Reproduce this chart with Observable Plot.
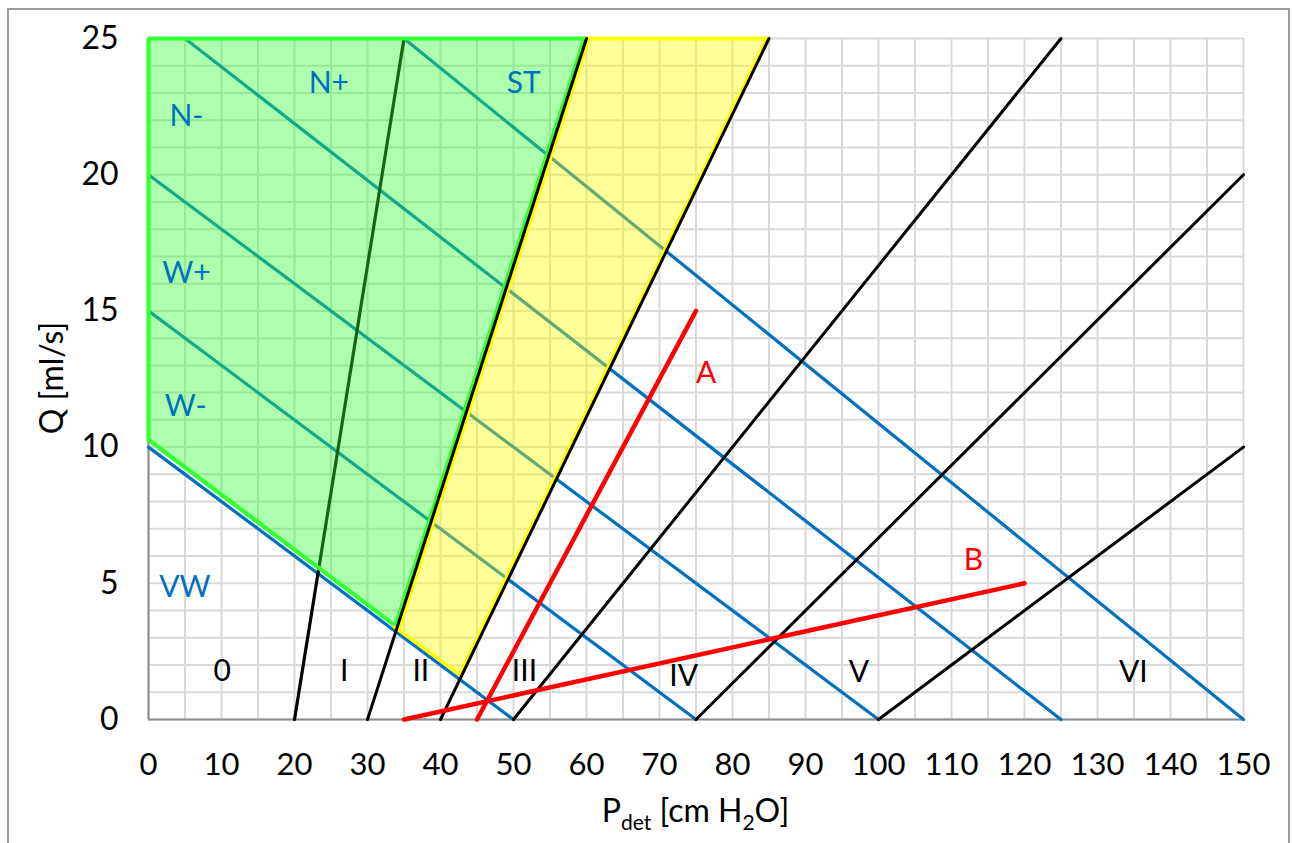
<!DOCTYPE html>
<html>
<head>
<meta charset="utf-8">
<script src="https://cdn.jsdelivr.net/npm/d3@7"></script>
<script src="https://cdn.jsdelivr.net/npm/@observablehq/plot@0.6"></script>
<style>
  html, body { margin: 0; padding: 0; background: #fff; overflow: hidden; }
  #frame { position: absolute; left: 7px; top: 8px; width: 1283px; height: 860px;
           border: 2px solid #9b9b9b; box-sizing: border-box; pointer-events: none; }
  #chart { position: absolute; left: 0; top: 0; }
</style>
</head>
<body>
<div id="chart"></div>
<div id="frame"></div>
<script>
// Axis ticks and grid
const xTicks = d3.range(0, 151, 10);
const yTicks = [0, 5, 10, 15, 20, 25];
const xGrid = d3.range(0, 151, 5);
const yGrid = d3.range(0, 26, 1);

// Obstruction grade boundaries: [name, p0, q0, p1, q1]
const gradeLines = [
  ["0/I",    20, 0,  35, 25],
  ["I/II",   30, 0,  60, 25],
  ["II/III", 40, 0,  85, 25],
  ["III/IV", 50, 0, 125, 25],
  ["IV/V",   75, 0, 150, 20],
  ["V/VI",  100, 0, 150, 10]
];

// Contractility boundaries: [name, p0, q0, p1, q1]
const contractLines = [
  ["VW/W-",  0, 10,  50, 0],
  ["W-/W+",  0, 15,  75, 0],
  ["W+/N-",  0, 20, 100, 0],
  ["N-/N+",  5, 25, 125, 0],
  ["N+/ST", 35, 25, 150, 0]
];

// Pressure-flow curves of two voids
const curves = [
  ["A", 45, 0,  75, 15],
  ["B", 35, 0, 120,  5]
];

// Shaded zones (polygon vertices, [p, q])
const greenZone  = [[0, 10.27], [0, 25], [60, 25], [34.07, 3.39]];
const yellowZone = [[34.07, 3.39], [60, 25], [85, 25], [42.9, 1.65]];

// Region labels: [text, p, q]
const contractLabels = [
  ["N+", 24.7, 23.37], ["N-", 5.2, 22.14], ["ST", 51.4, 23.34],
  ["W+", 5.2, 16.39], ["W-", 5.1, 11.49], ["VW", 5.0, 4.85]
];
const gradeLabels = [
  ["0", 10.1, 1.75], ["I", 26.8, 1.75], ["II", 37.3, 1.75], ["III", 51.5, 1.75],
  ["IV", 73.3, 1.6], ["V", 97.3, 1.74], ["VI", 134.9, 1.74]
];
const curveLabels = [["A", 76.4, 12.7], ["B", 113, 5.84]];

// helpers turning [name, x0, y0, x1, y1] rows into point lists
const segPoints = rows => rows.flatMap(([name, x0, y0, x1, y1]) =>
  [{name, x: x0, y: y0}, {name, x: x1, y: y1}]);
const polyPoints = pts => pts.map(([x, y]) => ({x, y}));
const labelRows = rows => rows.map(([text, x, y]) => ({text, x, y}));

const BLUE = "#0070c0", GREEN = "#33ff33", YELLOW = "#ffff00", RED = "#ff0000";

// the 0/I boundary runs through the green zone, so it sits beneath the fill
const underFill = gradeLines.filter(d => d[0] === "0/I");
const overFill = gradeLines.filter(d => d[0] !== "0/I");

// Zone outlines; the edge shared by both zones is drawn twice, side by side
const gz = polyPoints(greenZone);
const greenOutline = [gz[3], gz[0], gz[1], gz[2]];
const sharedEdge = [gz[2], gz[3]];
const yz = polyPoints(yellowZone);
const yellowTop = [yz[1], yz[2]];
const yellowRight = [yz[2], yz[3], yz[0]];

const chart = Plot.plot({
  width: 1292,
  height: 843,
  marginLeft: 148,
  marginRight: 49,
  marginTop: 38,
  marginBottom: 124,
  x: {domain: [0, 150]},
  y: {domain: [0, 25]},
  style: {fontFamily: "Lato, sans-serif", fontSize: "31px", color: "#000", background: "#fff", overflow: "visible"},
  marks: [
    Plot.ruleX(xGrid, {stroke: "#d9d9d9", strokeWidth: 2}),
    Plot.ruleY(yGrid, {stroke: "#d9d9d9", strokeWidth: 2}),
    Plot.ruleX([0], {stroke: "#8c8c8c", strokeWidth: 2}),
    Plot.ruleY([0], {stroke: "#8c8c8c", strokeWidth: 2}),
    Plot.line(segPoints(contractLines), {x: "x", y: "y", z: "name", stroke: BLUE, strokeWidth: 3.2}),
    Plot.line(segPoints(underFill), {x: "x", y: "y", z: "name", stroke: "#000", strokeWidth: 3.2}),
    // translucent zones
    Plot.line(gz, {x: "x", y: "y", fill: GREEN, fillOpacity: 0.4, stroke: "none", curve: "linear-closed"}),
    Plot.line(yz, {x: "x", y: "y", fill: YELLOW, fillOpacity: 0.4, stroke: "none", curve: "linear-closed"}),
    // zone outlines
    Plot.line(greenOutline, {x: "x", y: "y", stroke: GREEN, strokeWidth: 4.2, strokeLinejoin: "miter"}),
    Plot.line(sharedEdge, {x: "x", y: "y", stroke: GREEN, strokeWidth: 3.8, dx: -2.4}),
    Plot.line(sharedEdge, {x: "x", y: "y", stroke: YELLOW, strokeWidth: 3.8, dx: 2.4}),
    Plot.line(yellowTop, {x: "x", y: "y", stroke: YELLOW, strokeWidth: 4.2}),
    Plot.line(yellowRight, {x: "x", y: "y", stroke: YELLOW, strokeWidth: 3.8, dx: -2, strokeLinejoin: "miter"}),
    Plot.line(segPoints(overFill), {x: "x", y: "y", z: "name", stroke: "#000", strokeWidth: 3}),
    Plot.line(segPoints(curves), {x: "x", y: "y", z: "name", stroke: RED, strokeWidth: 4.5}),
    Plot.text(labelRows(contractLabels), {x: "x", y: "y", text: "text", fill: BLUE, fontSize: 30, lineAnchor: "middle"}),
    Plot.text(labelRows(gradeLabels), {x: "x", y: "y", text: "text", fill: "#000", fontSize: 30, lineAnchor: "middle"}),
    Plot.text(labelRows(curveLabels), {x: "x", y: "y", text: "text", fill: RED, fontSize: 30, lineAnchor: "middle"}),
    Plot.axisX({ticks: xTicks, tickSize: 0, tickPadding: 33, fontSize: 31, label: null}),
    Plot.axisY({ticks: yTicks, tickSize: 0, tickPadding: 30, fontSize: 32, label: null})
  ]
});

document.getElementById("chart").appendChild(chart);

// Axis titles with subscripts
const svg = d3.select(chart);
const xt = svg.append("text")
  .attr("x", 695.5).attr("y", 822)
  .attr("text-anchor", "middle")
  .attr("font-size", 32).attr("fill", "#000");
xt.append("tspan").text("P");
xt.append("tspan").attr("font-size", 21).attr("dy", 8).text("det");
xt.append("tspan").attr("dy", -8).text(" [cm H");
xt.append("tspan").attr("font-size", 21).attr("dy", 8).text("2");
xt.append("tspan").attr("dy", -8).text("O]");

svg.append("text")
  .attr("transform", "translate(63,378) rotate(-90)")
  .attr("text-anchor", "middle")
  .attr("font-size", 32).attr("fill", "#000")
  .text("Q [ml/s]");
</script>
</body>
</html>
